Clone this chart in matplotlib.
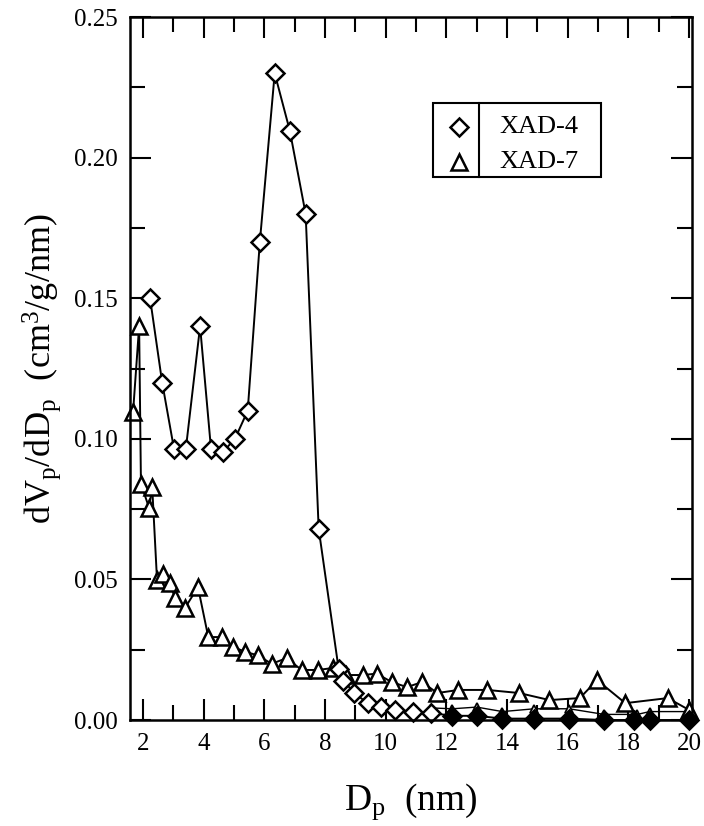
import matplotlib
matplotlib.use("Agg")
import matplotlib.pyplot as plt
from matplotlib.ticker import MultipleLocator
from matplotlib.patches import Rectangle

plt.rcParams['font.family'] = ['Liberation Serif', 'DejaVu Serif']
plt.rcParams['mathtext.fontset'] = 'custom'
plt.rcParams['mathtext.rm'] = 'Liberation Serif'
plt.rcParams['mathtext.it'] = 'Liberation Serif:italic'

# pore diameter (nm) and dVp/dDp values
xad4_x = [2.23, 2.63, 3.02, 3.41, 3.88, 4.24, 4.63, 5.03, 5.45, 5.85, 6.34, 6.84, 7.36,
          7.79, 8.45, 8.6, 8.97, 9.4, 9.86, 10.3, 10.9, 11.5, 12.2, 13.0, 13.85, 14.9,
          16.05, 17.2, 18.2, 18.7, 20.0]
xad4_y = [0.150, 0.120, 0.0964, 0.0964, 0.140, 0.0964, 0.0953, 0.100, 0.110, 0.170, 0.230,
          0.2095, 0.180, 0.068, 0.018, 0.014, 0.0096, 0.006, 0.0047, 0.0036, 0.003, 0.0025,
          0.0015, 0.0015, 0.0005, 0.0005, 0.0005, 0.0, 0.0, 0.0, 0.0]

xad7_x = [1.67, 1.87, 1.93, 2.2, 2.3, 2.46, 2.66, 2.89, 3.05, 3.38, 3.81, 4.15, 4.6, 4.96,
          5.36, 5.78, 6.24, 6.73, 7.23, 7.76, 8.26, 8.7, 9.24, 9.7, 10.2, 10.7, 11.2, 11.7,
          12.4, 13.35, 14.4, 15.4, 16.4, 16.97, 17.9, 19.3, 20.0]
xad7_y = [0.1095, 0.140, 0.084, 0.0754, 0.083, 0.0498, 0.052, 0.0487, 0.0434, 0.0398,
          0.0473, 0.0295, 0.0295, 0.026, 0.0243, 0.023, 0.020, 0.022, 0.0178, 0.0178,
          0.0185, 0.016, 0.016, 0.0165, 0.0135, 0.0117, 0.0135, 0.0096, 0.0107, 0.0107,
          0.0096, 0.0071, 0.0078, 0.0142, 0.006, 0.0078, 0.0036]

# faint small triangles along the baseline
low_x = [11.5, 12.2, 13.0, 13.85, 14.9, 16.05, 17.2, 18.3, 18.7, 20.0]
low_y = [0.0043, 0.004, 0.0046, 0.003, 0.004, 0.004, 0.002, 0.002, 0.003, 0.003]

fig = plt.figure(figsize=(7.04, 8.26), dpi=100)
ax = fig.add_axes([0.1847, 0.1283, 0.7983, 0.8511])

ax.plot(low_x, low_y, color='black', lw=1.0, marker='^', ms=6,
        mfc='white', mec='black', mew=1.3, zorder=2, clip_on=False)
ax.plot(xad7_x, xad7_y, color='black', lw=1.4, marker='^', ms=12,
        mfc='white', mec='black', mew=1.8, zorder=3, clip_on=False)
ax.plot(xad4_x, xad4_y, color='black', lw=1.4, marker='D', ms=9,
        mfc='white', mec='black', mew=1.8, zorder=4, clip_on=False)
# diamonds sitting on the baseline print solid
base_x = [x for x, y in zip(xad4_x, xad4_y) if y <= 0.0015]
base_y = [y for y in xad4_y if y <= 0.0015]
ax.plot(base_x, base_y, ls='none', marker='D', ms=8, mfc='black', mec='black',
        zorder=5, clip_on=False)

ax.set_xlim(1.57, 20.1)
ax.set_ylim(0, 0.25)
ax.xaxis.set_major_locator(MultipleLocator(2))
ax.xaxis.set_minor_locator(MultipleLocator(1))
ax.yaxis.set_major_locator(MultipleLocator(0.05))
ax.yaxis.set_minor_locator(MultipleLocator(0.025))
ax.yaxis.set_major_formatter(plt.FormatStrFormatter('%.2f'))

ax.tick_params(which='both', direction='in', top=True, right=True, width=1.5,
               labelsize=18, pad=9)
ax.tick_params(which='major', length=15)
ax.tick_params(which='minor', length=11)
for s in ax.spines.values():
    s.set_linewidth(1.8)
    s.set_zorder(6)

ax.set_xlabel(r'D$_\mathrm{p}$  (nm)', fontsize=27, labelpad=19)
ax.set_ylabel(r'dV$_\mathrm{p}$/dD$_\mathrm{p}$  (cm$^3$/g/nm)', fontsize=26, labelpad=8)

# legend box with a divider between symbols and labels
ax.add_patch(Rectangle((0.539, 0.772), 0.299, 0.106, transform=ax.transAxes,
                       fill=False, edgecolor='black', lw=1.5, zorder=5))
ax.plot([0.621, 0.621], [0.772, 0.878], transform=ax.transAxes, color='black', lw=1.5)
ax.plot([0.585], [0.8435], transform=ax.transAxes, marker='D', ms=9, mfc='white',
        mec='black', mew=1.8, ls='none')
ax.plot([0.585], [0.794], transform=ax.transAxes, marker='^', ms=12, mfc='white',
        mec='black', mew=1.8, ls='none')
ax.text(0.658, 0.8435, 'XAD-4', transform=ax.transAxes, fontsize=19, va='center')
ax.text(0.658, 0.794, 'XAD-7', transform=ax.transAxes, fontsize=19, va='center')

fig.savefig('out.png', dpi=100)
